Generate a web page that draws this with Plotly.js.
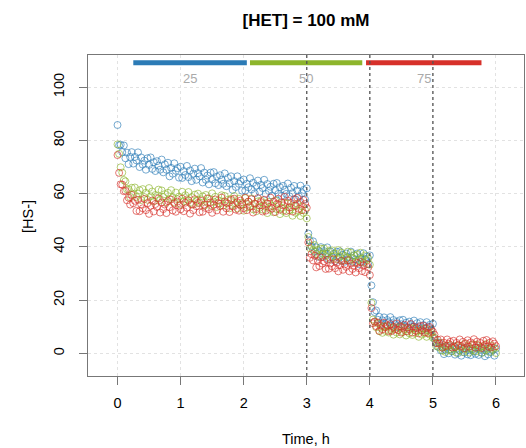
<!DOCTYPE html>
<html>
<head>
<meta charset="utf-8">
<script src="https://cdn.plot.ly/plotly-3.0.1.min.js"></script>
<style>html,body{margin:0;padding:0;background:#fff;}#chart{width:526px;height:448px;}</style>
</head>
<body>
<div id="chart"></div>
<script>
// time, hours
const time_h = [
0,0.025,0.05,0.075,0.1,0.125,0.15,0.175,0.2,0.225,0.25,0.275,0.3,0.325,0.35,0.375,0.4,0.425,0.45,0.475,
0.5,0.525,0.55,0.575,0.6,0.625,0.65,0.675,0.7,0.725,0.75,0.775,0.8,0.825,0.85,0.875,0.9,0.925,0.95,0.975,
1,1.025,1.05,1.075,1.1,1.125,1.15,1.175,1.2,1.225,1.25,1.275,1.3,1.325,1.35,1.375,1.4,1.425,1.45,1.475,
1.5,1.525,1.55,1.575,1.6,1.625,1.65,1.675,1.7,1.725,1.75,1.775,1.8,1.825,1.85,1.875,1.9,1.925,1.95,1.975,
2,2.025,2.05,2.075,2.1,2.125,2.15,2.175,2.2,2.225,2.25,2.275,2.3,2.325,2.35,2.375,2.4,2.425,2.45,2.475,
2.5,2.525,2.55,2.575,2.6,2.625,2.65,2.675,2.7,2.725,2.75,2.775,2.8,2.825,2.85,2.875,2.9,2.925,2.95,2.975,
3,3.025,3.05,3.075,3.1,3.125,3.15,3.175,3.2,3.225,3.25,3.275,3.3,3.325,3.35,3.375,3.4,3.425,3.45,3.475,
3.5,3.525,3.55,3.575,3.6,3.625,3.65,3.675,3.7,3.725,3.75,3.775,3.8,3.825,3.85,3.875,3.9,3.925,3.95,3.975,
4,4.025,4.05,4.075,4.1,4.125,4.15,4.175,4.2,4.225,4.25,4.275,4.3,4.325,4.35,4.375,4.4,4.425,4.45,4.475,
4.5,4.525,4.55,4.575,4.6,4.625,4.65,4.675,4.7,4.725,4.75,4.775,4.8,4.825,4.85,4.875,4.9,4.925,4.95,4.975,
5,5.025,5.05,5.075,5.1,5.125,5.15,5.175,5.2,5.225,5.25,5.275,5.3,5.325,5.35,5.375,5.4,5.425,5.45,5.475,
5.5,5.525,5.55,5.575,5.6,5.625,5.65,5.675,5.7,5.725,5.75,5.775,5.8,5.825,5.85,5.875,5.9,5.925,5.95,5.975,
6];

// [HS-] readings for the three series (25, 50, 75)
const hs_25 = [
85.8,78.2,78.4,75.6,78.1,73.3,75.4,71.1,73.8,75.6,71.3,73.8,72.5,75.5,70.0,73.6,70.9,72.4,69.0,73.3,
70.8,73.6,69.3,71.8,68.5,72.2,70.5,69.0,72.8,68.0,71.0,69.0,71.6,66.5,69.7,67.5,71.4,68.6,69.6,66.0,
70.1,65.9,68.5,67.0,70.4,66.2,68.7,64.7,67.5,69.4,65.2,67.7,66.5,69.6,64.2,67.9,65.2,66.8,63.5,67.9,
65.3,68.1,63.9,66.4,63.2,66.9,65.2,63.7,67.6,62.8,65.9,63.9,66.5,61.4,64.7,62.5,66.5,63.7,64.7,61.1,
65.3,61.1,63.7,62.4,65.8,61.6,64.1,60.1,63.0,64.9,60.7,63.3,62.1,65.2,59.9,63.6,61.0,62.6,59.3,63.7,
61.2,64.0,59.9,62.4,59.2,62.9,61.4,59.9,63.8,59.0,62.2,60.2,62.9,57.8,61.2,59.0,63.0,60.2,61.4,57.8,
62.0,45.0,42.3,40.1,42.1,38.2,39.8,36.3,38.4,39.9,36.4,38.4,37.4,39.8,35.4,38.3,36.1,37.4,34.6,38.1,
36.0,38.3,34.9,37.0,34.4,37.5,36.2,35.0,38.2,34.4,36.9,35.3,37.5,33.5,36.1,34.4,37.6,35.4,36.3,33.5,
36.8,25.5,19.2,15.5,16.1,12.6,13.7,10.9,12.4,13.5,11.0,12.5,11.7,13.6,10.3,12.5,10.9,11.8,9.8,12.4,
10.9,12.6,10.1,11.5,9.6,11.9,10.9,10.0,12.3,9.4,11.3,10.1,11.7,8.6,10.6,9.3,11.7,10.0,10.7,8.5,
11.1,5.4,4.0,2.5,4.0,1.1,2.4,-0.3,1.3,2.5,0.0,1.5,0.8,2.7,-0.5,1.7,0.1,1.1,-0.9,1.8,
0.3,2.0,-0.4,1.1,-0.7,1.6,0.7,-0.2,2.2,-0.6,1.3,0.2,1.9,-1.1,0.9,-0.4,2.1,0.5,1.2,-0.9,
1.7];

const hs_50 = [
78.5,75.0,69.9,67.9,65.1,64.6,61.6,61.7,58.7,62.2,59.6,62.3,58.8,60.0,61.3,57.6,61.7,58.7,60.3,57.7,
62.1,59.0,60.8,57.1,59.5,58.4,61.5,57.6,61.2,58.7,59.8,56.7,60.3,57.9,61.3,58.6,56.7,60.4,57.9,58.9,
55.9,60.7,57.1,59.4,57.8,60.6,56.5,58.7,55.9,59.6,57.2,60.0,56.5,57.8,59.0,55.4,59.5,56.6,58.2,55.7,
60.1,57.0,58.8,55.0,57.5,56.3,59.4,55.5,59.1,56.5,57.7,54.5,58.1,55.7,59.1,56.3,54.5,58.1,55.6,56.6,
53.6,58.3,54.8,57.0,55.4,58.2,54.1,56.2,53.4,57.1,54.7,57.4,54.0,55.2,56.4,52.7,56.9,53.9,55.5,53.0,
57.4,54.2,56.1,52.3,54.7,53.5,56.6,52.7,56.3,53.7,54.8,51.7,55.3,52.8,56.2,53.5,51.6,55.2,52.7,53.7,
50.7,43.7,39.5,40.5,38.8,40.7,37.3,38.8,36.5,39.3,37.4,39.4,36.6,37.5,38.4,35.5,38.7,36.4,37.5,35.4,
38.8,36.3,37.8,34.8,36.6,35.7,38.2,35.0,37.8,35.8,36.7,34.2,37.0,35.0,37.8,35.6,34.1,36.8,34.9,35.6,
33.3,19.0,12.7,11.9,9.8,11.3,8.3,9.6,7.7,10.1,8.4,10.2,7.8,8.7,9.5,7.0,9.8,7.8,8.8,7.1,
10.0,8.0,9.2,6.7,8.2,7.5,9.5,6.9,9.3,7.6,8.3,6.2,8.6,7.0,9.3,7.5,6.2,8.7,7.0,7.7,
5.8,5.9,2.8,3.7,2.2,3.9,1.0,2.3,0.5,2.9,1.3,3.1,0.8,1.7,2.6,0.2,3.0,1.1,2.2,0.5,
3.5,1.5,2.8,0.3,1.9,1.2,3.3,0.7,3.2,1.6,2.3,0.2,2.7,1.1,3.5,1.7,0.5,2.9,1.3,2.0,
0.1];

const hs_75 = [
74.5,67.8,63.5,63.4,60.9,61.1,57.5,58.5,55.9,59.5,56.4,57.3,53.5,57.7,53.4,56.0,54.5,58.0,53.8,56.4,
52.4,55.4,57.4,53.3,56.1,55.0,58.2,52.9,56.7,54.2,55.9,52.7,57.2,54.9,57.8,53.7,56.3,53.2,57.0,55.5,
54.1,58.1,53.4,56.6,54.7,57.5,52.5,55.9,53.8,57.9,55.3,56.5,53.0,57.3,53.2,55.9,54.6,58.2,54.1,56.7,
52.8,55.8,57.8,53.7,56.4,55.3,58.5,53.2,57.0,54.5,56.3,53.1,57.6,55.2,58.1,54.0,56.7,53.6,57.4,55.9,
54.5,58.5,53.8,57.0,55.1,57.9,52.9,56.3,54.2,58.3,55.6,56.8,53.3,57.7,53.6,56.3,55.0,58.5,54.4,57.0,
53.1,56.1,58.1,54.0,56.7,55.6,58.8,53.5,57.3,54.8,56.5,53.3,57.9,55.5,58.4,54.3,56.9,53.8,57.6,56.1,
54.7,41.7,35.9,37.3,34.9,36.7,32.3,34.7,32.8,36.0,33.7,34.6,31.7,35.1,31.8,33.8,32.7,35.4,32.0,34.0,
30.8,33.1,34.7,31.4,33.4,32.5,35.0,30.8,33.7,31.7,33.0,30.4,33.9,32.0,34.3,30.9,33.0,30.5,33.5,32.3,
29.4,17.0,11.3,11.9,10.2,11.6,8.4,10.4,9.0,11.5,9.8,10.5,8.3,10.9,8.4,9.9,9.1,11.2,8.7,10.2,
7.8,9.6,10.7,8.3,9.8,9.1,11.0,7.8,10.0,8.5,9.5,7.5,10.2,8.7,10.4,7.9,9.5,7.6,9.9,9.0,
8.1,7.0,3.8,5.1,3.7,5.2,2.1,4.0,2.7,5.2,3.6,4.3,2.2,4.7,2.3,3.9,3.1,5.2,2.7,4.3,
1.9,3.7,4.9,2.5,4.1,3.4,5.3,2.1,4.4,2.9,3.9,2.0,4.7,3.2,5.0,2.5,4.0,2.2,4.5,3.6,
2.7];

const series_labels = ['25', '50', '75'];
const series_colors = ['#2c7bb6', '#8db52c', '#d7302a'];
const series_values = [hs_25, hs_50, hs_75];
// legend bar extents (h) drawn along the top
const bar_start = [0.25, 2.1, 3.94];
const bar_end = [2.05, 3.88, 5.77];
const step_times = [3, 4, 5];
const x_ticks = [0, 1, 2, 3, 4, 5, 6];
const y_ticks = [0, 20, 40, 60, 80, 100];

const FONT = '"Liberation Sans", Arial, Helvetica, sans-serif';

const traces = series_values.map((vals, k) => ({
  type: 'scatter',
  mode: 'markers',
  x: time_h,
  y: vals,
  name: series_labels[k],
  marker: {
    symbol: 'circle-open',
    size: 7,
    color: series_colors[k],
    opacity: 0.72,
    line: {width: 0.9, color: series_colors[k]}
  },
  hoverinfo: 'skip'
}));

const shapes = [];
series_labels.forEach((lab, k) => {
  shapes.push({type: 'line', xref: 'x', yref: 'paper',
    x0: bar_start[k], x1: bar_end[k], y0: 0.9755, y1: 0.9755,
    line: {color: series_colors[k], width: 5}, layer: 'above'});
});
step_times.forEach(t => {
  shapes.push({type: 'line', xref: 'x', yref: 'paper',
    x0: t, x1: t, y0: 0, y1: 1,
    line: {color: '#555', width: 1.3, dash: '3px,3px'}, layer: 'above'});
});

const annotations = series_labels.map((lab, k) => ({
  xref: 'x', yref: 'y',
  x: (bar_start[k] + bar_end[k]) / 2, y: 103.1,
  text: lab, showarrow: false,
  font: {family: FONT, size: 13, color: '#aaaaaa'},
  xanchor: 'center', yanchor: 'middle'
}));
annotations.push({
  xref: 'paper', yref: 'paper', x: 0.5, y: -(439 - 376) / 321,
  text: 'Time, h', showarrow: false,
  font: {family: FONT, size: 14.5, color: '#000'},
  xanchor: 'center', yanchor: 'middle'
});
annotations.push({
  xref: 'paper', yref: 'paper', x: -(88 - 28) / 436, y: (376 - 217) / 321,
  text: '[HS-]', showarrow: false, textangle: -90,
  font: {family: FONT, size: 14.5, color: '#000'},
  xanchor: 'center', yanchor: 'middle'
});

const axisCommon = {
  showline: true, linecolor: '#777', linewidth: 1.2, mirror: true,
  ticks: 'outside', ticklen: 8, tickwidth: 1, tickcolor: '#777',
  showgrid: true, gridcolor: '#e2e2e2', gridwidth: 1, griddash: 'dot',
  zeroline: false,
  tickfont: {family: FONT, size: 14.5, color: '#000'},
  fixedrange: true
};

const layout = {
  width: 526, height: 448,
  margin: {l: 88, r: 2, t: 55, b: 72, pad: 0},
  paper_bgcolor: '#fff', plot_bgcolor: '#fff',
  showlegend: false,
  title: {
    text: '<b>[HET] = 100 mM</b>',
    font: {family: FONT, size: 17, color: '#000'},
    xref: 'paper', x: 0.5, xanchor: 'center',
    yref: 'container', y: 1 - 20 / 448, yanchor: 'middle'
  },
  xaxis: Object.assign({}, axisCommon, {
    range: [-0.468, 6.444], tickmode: 'array', tickvals: x_ticks,
    ticktext: x_ticks.map(String), ticklabelstandoff: 5
  }),
  yaxis: Object.assign({}, axisCommon, {
    range: [-8.53, 112.1], tickmode: 'array', tickvals: y_ticks,
    ticktext: y_ticks.map(String), tickangle: -90, ticklabelstandoff: 9
  }),
  shapes: shapes,
  annotations: annotations
};

Plotly.newPlot('chart', traces, layout, {staticPlot: true, displayModeBar: false});
</script>
</body>
</html>
